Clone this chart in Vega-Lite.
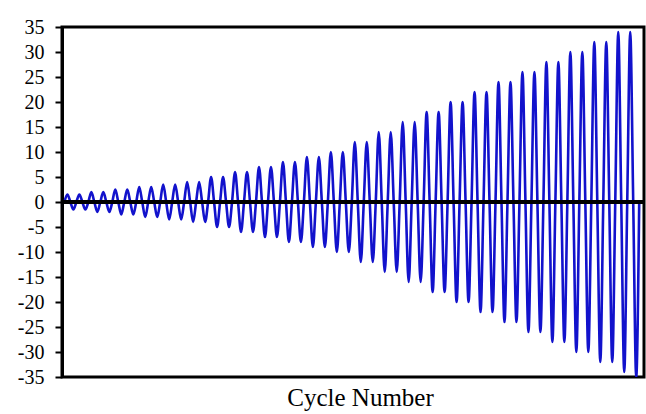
{
  "$schema": "https://vega.github.io/schema/vega-lite/v6.json",
  "width": 582,
  "height": 350,
  "autosize": {"type": "none"},
  "padding": {"left": 62, "top": 27, "right": 2, "bottom": 37},
  "background": "white",
  "config": {
    "view": {"stroke": "black", "strokeWidth": 3},
    "font": "Liberation Serif",
    "axis": {"labelFont": "Liberation Serif", "titleFont": "Liberation Serif"}
  },
  "data": {"values": [
    {"t":0,"v":0},{"t":0.25,"v":1.5},{"t":0.5,"v":0},{"t":0.75,"v":-1.5},
    {"t":1,"v":0},{"t":1.25,"v":1.5},{"t":1.5,"v":0},{"t":1.75,"v":-1.5},
    {"t":2,"v":0},{"t":2.25,"v":2},{"t":2.5,"v":0},{"t":2.75,"v":-2},
    {"t":3,"v":0},{"t":3.25,"v":2},{"t":3.5,"v":0},{"t":3.75,"v":-2},
    {"t":4,"v":0},{"t":4.25,"v":2.5},{"t":4.5,"v":0},{"t":4.75,"v":-2.5},
    {"t":5,"v":0},{"t":5.25,"v":2.5},{"t":5.5,"v":0},{"t":5.75,"v":-2.5},
    {"t":6,"v":0},{"t":6.25,"v":3},{"t":6.5,"v":0},{"t":6.75,"v":-3},
    {"t":7,"v":0},{"t":7.25,"v":3},{"t":7.5,"v":0},{"t":7.75,"v":-3},
    {"t":8,"v":0},{"t":8.25,"v":3.5},{"t":8.5,"v":0},{"t":8.75,"v":-3.5},
    {"t":9,"v":0},{"t":9.25,"v":3.5},{"t":9.5,"v":0},{"t":9.75,"v":-3.5},
    {"t":10,"v":0},{"t":10.25,"v":4},{"t":10.5,"v":0},{"t":10.75,"v":-4},
    {"t":11,"v":0},{"t":11.25,"v":4},{"t":11.5,"v":0},{"t":11.75,"v":-4},
    {"t":12,"v":0},{"t":12.25,"v":5},{"t":12.5,"v":0},{"t":12.75,"v":-5},
    {"t":13,"v":0},{"t":13.25,"v":5},{"t":13.5,"v":0},{"t":13.75,"v":-5},
    {"t":14,"v":0},{"t":14.25,"v":6},{"t":14.5,"v":0},{"t":14.75,"v":-6},
    {"t":15,"v":0},{"t":15.25,"v":6},{"t":15.5,"v":0},{"t":15.75,"v":-6},
    {"t":16,"v":0},{"t":16.25,"v":7},{"t":16.5,"v":0},{"t":16.75,"v":-7},
    {"t":17,"v":0},{"t":17.25,"v":7},{"t":17.5,"v":0},{"t":17.75,"v":-7},
    {"t":18,"v":0},{"t":18.25,"v":8},{"t":18.5,"v":0},{"t":18.75,"v":-8},
    {"t":19,"v":0},{"t":19.25,"v":8},{"t":19.5,"v":0},{"t":19.75,"v":-8},
    {"t":20,"v":0},{"t":20.25,"v":9},{"t":20.5,"v":0},{"t":20.75,"v":-9},
    {"t":21,"v":0},{"t":21.25,"v":9},{"t":21.5,"v":0},{"t":21.75,"v":-9},
    {"t":22,"v":0},{"t":22.25,"v":10},{"t":22.5,"v":0},{"t":22.75,"v":-10},
    {"t":23,"v":0},{"t":23.25,"v":10},{"t":23.5,"v":0},{"t":23.75,"v":-10},
    {"t":24,"v":0},{"t":24.25,"v":12},{"t":24.5,"v":0},{"t":24.75,"v":-12},
    {"t":25,"v":0},{"t":25.25,"v":12},{"t":25.5,"v":0},{"t":25.75,"v":-12},
    {"t":26,"v":0},{"t":26.25,"v":14},{"t":26.5,"v":0},{"t":26.75,"v":-14},
    {"t":27,"v":0},{"t":27.25,"v":14},{"t":27.5,"v":0},{"t":27.75,"v":-14},
    {"t":28,"v":0},{"t":28.25,"v":16},{"t":28.5,"v":0},{"t":28.75,"v":-16},
    {"t":29,"v":0},{"t":29.25,"v":16},{"t":29.5,"v":0},{"t":29.75,"v":-16},
    {"t":30,"v":0},{"t":30.25,"v":18},{"t":30.5,"v":0},{"t":30.75,"v":-18},
    {"t":31,"v":0},{"t":31.25,"v":18},{"t":31.5,"v":0},{"t":31.75,"v":-18},
    {"t":32,"v":0},{"t":32.25,"v":20},{"t":32.5,"v":0},{"t":32.75,"v":-20},
    {"t":33,"v":0},{"t":33.25,"v":20},{"t":33.5,"v":0},{"t":33.75,"v":-20},
    {"t":34,"v":0},{"t":34.25,"v":22},{"t":34.5,"v":0},{"t":34.75,"v":-22},
    {"t":35,"v":0},{"t":35.25,"v":22},{"t":35.5,"v":0},{"t":35.75,"v":-22},
    {"t":36,"v":0},{"t":36.25,"v":24},{"t":36.5,"v":0},{"t":36.75,"v":-24},
    {"t":37,"v":0},{"t":37.25,"v":24},{"t":37.5,"v":0},{"t":37.75,"v":-24},
    {"t":38,"v":0},{"t":38.25,"v":26},{"t":38.5,"v":0},{"t":38.75,"v":-26},
    {"t":39,"v":0},{"t":39.25,"v":26},{"t":39.5,"v":0},{"t":39.75,"v":-26},
    {"t":40,"v":0},{"t":40.25,"v":28},{"t":40.5,"v":0},{"t":40.75,"v":-28},
    {"t":41,"v":0},{"t":41.25,"v":28},{"t":41.5,"v":0},{"t":41.75,"v":-28},
    {"t":42,"v":0},{"t":42.25,"v":30},{"t":42.5,"v":0},{"t":42.75,"v":-30},
    {"t":43,"v":0},{"t":43.25,"v":30},{"t":43.5,"v":0},{"t":43.75,"v":-30},
    {"t":44,"v":0},{"t":44.25,"v":32},{"t":44.5,"v":0},{"t":44.75,"v":-32},
    {"t":45,"v":0},{"t":45.25,"v":32},{"t":45.5,"v":0},{"t":45.75,"v":-32},
    {"t":46,"v":0},{"t":46.25,"v":34},{"t":46.5,"v":0},{"t":46.75,"v":-34},
    {"t":47,"v":0},{"t":47.25,"v":34},{"t":47.5,"v":0},{"t":47.75,"v":-35},
    {"t":48,"v":0}
  ]},
  "layer": [
    {
      "mark": {"type": "line", "interpolate": "monotone", "color": "#1212cc", "strokeWidth": 2.6, "clip": true},
      "encoding": {
        "x": {
          "field": "t", "type": "quantitative",
          "scale": {"domain": [-0.2, 48.4], "nice": false, "zero": false},
          "axis": {
            "title": "Cycle Number", "titleFont": "Liberation Serif", "titleFontSize": 25,
            "titleFontWeight": "normal", "titleColor": "black", "titlePadding": 8,
            "titleX": 298,
            "labels": false, "ticks": false, "grid": false, "domain": false
          }
        },
        "y": {
          "field": "v", "type": "quantitative",
          "scale": {"domain": [-35, 35], "nice": false},
          "axis": {
            "title": null, "grid": false,
            "values": [-35,-30,-25,-20,-15,-10,-5,0,5,10,15,20,25,30,35],
            "labelExpr": "'' + datum.value",
            "labelFont": "Liberation Serif", "labelFontSize": 20, "labelColor": "black",
            "labelPadding": 11, "labelOverlap": false, "labelBound": false, "labelFlush": false,
            "domainColor": "black", "domainWidth": 3,
            "tickColor": "black", "tickWidth": 2, "tickSize": 7
          }
        }
      }
    },
    {
      "mark": {"type": "rule", "color": "black", "strokeWidth": 2.7},
      "encoding": {
        "y": {
          "datum": 0, "type": "quantitative",
          "axis": {
            "title": null, "grid": false,
            "values": [-35,-30,-25,-20,-15,-10,-5,0,5,10,15,20,25,30,35],
            "labelExpr": "'' + datum.value",
            "labelFont": "Liberation Serif", "labelFontSize": 20, "labelColor": "black",
            "labelPadding": 11, "labelOverlap": false, "labelBound": false, "labelFlush": false,
            "domainColor": "black", "domainWidth": 3,
            "tickColor": "black", "tickWidth": 2, "tickSize": 7
          }
        }
      }
    }
  ]
}
